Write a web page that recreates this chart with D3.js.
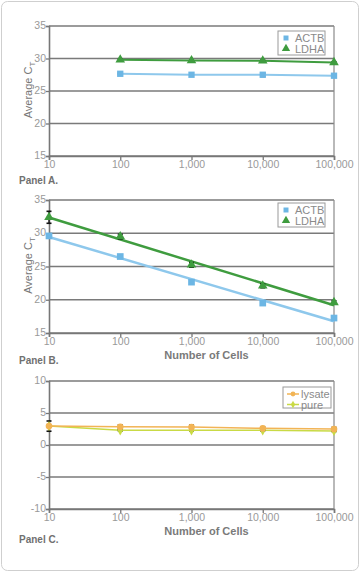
<!DOCTYPE html>
<html><head><meta charset="utf-8">
<script src="https://cdn.jsdelivr.net/npm/d3@7"></script>
<style>
html,body{margin:0;padding:0;background:#fff;}
svg{display:block;font-family:"Liberation Sans",Arial,sans-serif;}
</style></head>
<body>
<svg id="chart" width="360" height="573"></svg>
<script>
// ---- data ----
const cells = [10, 100, 1000, 10000, 100000];
const xTickLabels = ["10", "100", "1,000", "10,000", "100,000"];

// Panel A (no value at 10 cells)
const cellsA = [100, 1000, 10000, 100000];
const actbA = [27.65, 27.5, 27.5, 27.35];
const ldhaA = [29.8, 29.7, 29.65, 29.4];
const actbAErr = [0.1, 0.1, 0.25, 0.1];
const ldhaAErr = [0.1, 0.1, 0.1, 0.1];
const yTicksAB = [15, 20, 25, 30, 35];

// Panel B
const actbB = [29.6, 26.5, 22.65, 19.5, 17.25];
const ldhaB = [32.4, 29.5, 25.25, 22.1, 19.6];
const actbBErr = [0.1, 0.1, 0.1, 0.1, 0.1];
const ldhaBErr = [0.9, 0.35, 0.35, 0.3, 0.25];

// Panel C
const lysateC = [2.95, 2.85, 2.8, 2.6, 2.5];
const pureC = [2.95, 2.3, 2.3, 2.3, 2.2];
const lysateCErr = [0.8, 0.3, 0.3, 0.25, 0.25];
const pureCErr = [0.1, 0.1, 0.1, 0.1, 0.1];
const yTicksC = [-10, -5, 0, 5, 10];

const blue = "#6cb6e4", blueLine = "#8ec8ec", green = "#3f9c3f";
const orange = "#f2b455", lime = "#c9da45";

const svg = d3.select("#chart");
svg.append("rect").attr("x", 1.5).attr("y", 1.5).attr("width", 357).attr("height", 569)
  .attr("rx", 6).attr("fill", "#fff").attr("stroke", "#cfcfcf");

const L = 49, R = 334;
const x = d3.scaleLog().domain([10, 100000]).range([L, R]);

function frame(top, bottom, domain, yTicks, opts) {
  const y = d3.scaleLinear().domain(domain).range([bottom, top]);
  const g = svg.append("g");
  // gridlines
  g.selectAll("line.grid").data(yTicks).join("line")
    .attr("x1", L).attr("x2", R).attr("y1", d => y(d)).attr("y2", d => y(d))
    .attr("stroke", "#7a7a7a").attr("stroke-width", 1.3);
  // right border
  g.append("line").attr("x1", R).attr("x2", R).attr("y1", top).attr("y2", bottom)
    .attr("stroke", "#8a8a8a").attr("stroke-width", 1.2);
  // y axis
  const ya = g.append("g").attr("transform", `translate(${L},0)`)
    .call(d3.axisLeft(y).tickValues(yTicks).tickSize(3).tickPadding(0).tickFormat(d => String(d)));
  ya.select(".domain").attr("stroke", "#777").attr("stroke-width", 1.6);
  ya.selectAll(".tick line").attr("stroke", "#777").attr("stroke-width", 1.3);
  ya.selectAll("text").attr("fill", "#999").attr("font-size", 10.5).attr("dy", "0.25em");
  // x axis
  const xa = g.append("g").attr("transform", `translate(0,${bottom})`)
    .call(d3.axisBottom(x).tickValues(cells).tickSize(4).tickPadding(1)
      .tickFormat((d, i) => xTickLabels[i]));
  xa.select(".domain").attr("stroke", "#777").attr("stroke-width", 1.6);
  xa.selectAll(".tick line").attr("stroke", "#777").attr("stroke-width", 1.3);
  xa.selectAll("text").attr("fill", "#999").attr("font-size", 10.5);
  // y title
  if (opts.yTitle) {
    const t = g.append("text")
      .attr("transform", `translate(32,${(top + bottom) / 2 - 1}) rotate(-90)`)
      .attr("text-anchor", "middle").attr("fill", "#777")
      .attr("font-size", 11);
    t.append("tspan").text("Average C");
    t.append("tspan").attr("font-size", 8).attr("dy", 3).text("T");
  }
  if (opts.xTitle) {
    g.append("text").attr("x", (L + R) / 2 + 15).attr("y", opts.xTitleY)
      .attr("text-anchor", "middle").attr("fill", "#7a7a7a")
      .attr("font-size", 11).attr("font-weight", "bold").text("Number of Cells");
  }
  g.append("text").attr("x", 19).attr("y", opts.panelY)
    .attr("fill", "#707070").attr("font-size", 10).attr("font-weight", "bold").text(opts.panel);
  return y;
}

function errorBars(xs, vals, errs, y) {
  const g = svg.append("g");
  xs.forEach((c, i) => {
    const cx = x(c), y1 = y(vals[i] - errs[i]), y2 = y(vals[i] + errs[i]);
    g.append("line").attr("x1", cx).attr("x2", cx).attr("y1", y1).attr("y2", y2)
      .attr("stroke", "#111").attr("stroke-width", 1.3);
    [y1, y2].forEach(yy => g.append("line").attr("x1", cx - 2.5).attr("x2", cx + 2.5)
      .attr("y1", yy).attr("y2", yy).attr("stroke", "#111").attr("stroke-width", 1.6));
  });
}

function markers(xs, vals, y, type, color, size) {
  const sym = d3.symbol().type(type).size(size);
  svg.append("g").selectAll("path").data(vals).join("path")
    .attr("d", sym).attr("fill", color)
    .attr("transform", (d, i) => `translate(${x(xs[i])},${y(d)})`);
}

function polyline(xs, vals, y, color, w) {
  svg.append("path").datum(vals)
    .attr("d", d3.line().x((d, i) => x(xs[i])).y(d => y(d)))
    .attr("fill", "none").attr("stroke", color).attr("stroke-width", w);
}

function fitLine(xs, vals, y, color, w) {
  const lx = xs.map(Math.log10);
  const mx = d3.mean(lx), my = d3.mean(vals);
  const slope = d3.sum(lx, (v, i) => (v - mx) * (vals[i] - my)) / d3.sum(lx, v => (v - mx) ** 2);
  const f = c => my + slope * (Math.log10(c) - mx);
  const ends = [xs[0], xs[xs.length - 1]];
  svg.append("line").attr("x1", x(ends[0])).attr("y1", y(f(ends[0])))
    .attr("x2", x(ends[1])).attr("y2", y(f(ends[1])))
    .attr("stroke", color).attr("stroke-width", w);
}

function legend(x0, y0, w, h, items) {
  const g = svg.append("g");
  g.append("rect").attr("x", x0).attr("y", y0).attr("width", w).attr("height", h)
    .attr("fill", "#fff").attr("stroke", "#9a9a9a").attr("stroke-width", 1);
  items.forEach((it, i) => {
    const cy = y0 + 7 + i * 10.5;
    if (it.line) g.append("line").attr("x1", x0 + 4).attr("x2", x0 + 16).attr("y1", cy).attr("y2", cy)
      .attr("stroke", it.color).attr("stroke-width", 1.5);
    g.append("path").attr("d", d3.symbol().type(it.type).size(it.size)())
      .attr("fill", it.color).attr("transform", `translate(${x0 + (it.line ? 10 : 8)},${cy})`);
    g.append("text").attr("x", x0 + (it.line ? 18 : 17)).attr("y", cy + 4)
      .attr("fill", "#8a8a8a").attr("font-size", 11).text(it.label);
  });
}

// ---- Panel A ----
const yA = frame(26, 156, [15, 35], yTicksAB, { yTitle: true, panel: "Panel A.", panelY: 184 });
polyline(cellsA, actbA, yA, blueLine, 2);
polyline(cellsA, ldhaA, yA, green, 2);
errorBars(cellsA, actbA, actbAErr, yA);
errorBars(cellsA, ldhaA, ldhaAErr, yA);
markers(cellsA, actbA, yA, d3.symbolSquare, blue, 40);
markers(cellsA, ldhaA, yA, d3.symbolTriangle, green, 40);
legend(278, 31, 47, 24, [
  { label: "ACTB", type: d3.symbolSquare, size: 25, color: blue },
  { label: "LDHA", type: d3.symbolTriangle, size: 30, color: green }]);

// ---- Panel B ----
const yB = frame(200, 333, [15, 35], yTicksAB, { yTitle: true, xTitle: true, xTitleY: 359, panel: "Panel B.", panelY: 364 });
fitLine(cells, actbB, yB, blueLine, 2.5);
fitLine(cells, ldhaB, yB, green, 2.5);
errorBars(cells, actbB, actbBErr, yB);
errorBars(cells, ldhaB, ldhaBErr, yB);
markers(cells, actbB, yB, d3.symbolSquare, blue, 45);
markers(cells, ldhaB, yB, d3.symbolTriangle, green, 40);
legend(278, 203, 47, 24, [
  { label: "ACTB", type: d3.symbolSquare, size: 25, color: blue },
  { label: "LDHA", type: d3.symbolTriangle, size: 30, color: green }]);

// ---- Panel C ----
const yC = frame(381, 509, [-10, 10], yTicksC, { xTitle: true, xTitleY: 535, panel: "Panel C.", panelY: 543 });
polyline(cells, pureC, yC, lime, 1.5);
polyline(cells, lysateC, yC, orange, 1.5);
errorBars(cells, lysateC, lysateCErr, yC);
errorBars(cells, pureC, pureCErr, yC);
markers(cells, pureC, yC, d3.symbolDiamond, lime, 30);
markers(cells, lysateC, yC, d3.symbolCircle, orange, 35);
legend(283, 387, 48, 21, [
  { label: "lysate", type: d3.symbolCircle, size: 18, color: orange, line: true },
  { label: "pure", type: d3.symbolDiamond, size: 16, color: lime, line: true }]);
</script>
</body></html>
